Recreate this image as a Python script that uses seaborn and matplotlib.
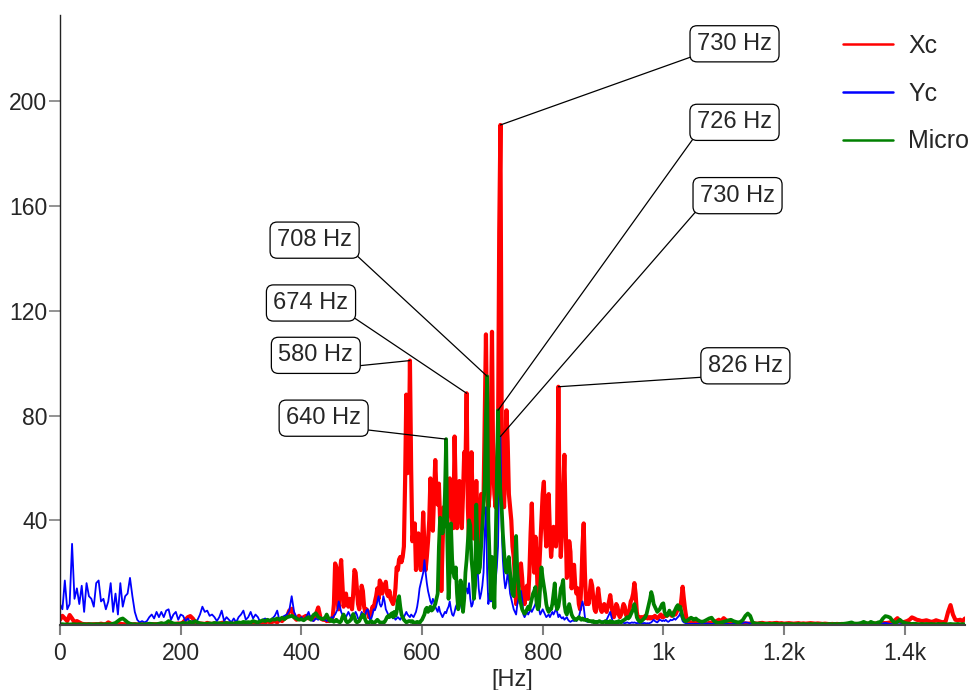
import numpy as np
import pandas as pd
import matplotlib
matplotlib.use("Agg")
import matplotlib.pyplot as plt
from matplotlib.ticker import FuncFormatter
import seaborn as sns

# frequency bins [Hz]: 4 Hz outside the resonance band, 2 Hz inside it
freq = np.concatenate([np.arange(0, 440, 4), np.arange(440, 1060, 2), np.arange(1060, 1504, 4)])

# ---- Xc -------------------------------------------------------------
xc_low = [2, 3.5, 2.5, 1.5, 3.8, 2.5, 1, 1.5, 1, 0.5,
          0.3, 0.3, 0.3, 0.2, 0.3, 0.3, 0.3, 0.5, 0.3, 0.3,
          1, 0.5, 0.3, 0.3, 0.2, 0.5, 0.3, 0.3, 0.2, 0.3,
          0.2, 0.3, 0.2, 0.3, 0.3, 0.2, 0.3, 0.2, 0.3, 0.3,
          0.3, 0.3, 0.5, 0.3, 0.4, 0.3, 0.5, 0.3, 0.4, 0.6,
          0.5, 1, 2, 3, 3.4, 2.5, 1.2, 0.5, 0.6, 0.5,
          0.4, 0.8, 0.5, 0.4, 0.6, 0.5, 0.4, 0.8, 1, 0.5,
          0.6, 0.4, 0.5, 0.8, 0.5, 0.6, 0.5, 0.7, 0.5, 0.6,
          0.8, 0.6, 0.7, 1, 0.6, 0.8, 1.5, 1, 1.2, 1.5,
          1, 2, 1.5, 2.5, 3, 5.5, 6.2, 3, 2, 3.5,
          2.5, 3, 3.5, 2.5, 3, 2, 4, 6.7, 2.5, 2]
xc_mid = [2, 1.5, 2, 1.5, 2, 2.5, 3, 8, 23.5, 22,
          10, 6, 20, 24.8, 16, 7, 9, 12, 8, 7,
          10, 9, 6, 12, 21, 20, 14, 8, 6, 10,
          15, 13, 7, 5, 6, 5, 3, 4, 5, 7,
          6, 9, 11, 14, 10, 17, 16, 12, 15, 14,
          16.5, 12, 11, 13, 10, 9, 8, 9.5, 14, 22,
          21, 25, 26, 24, 26, 30, 55, 88, 58, 62,
          101, 60, 32, 36, 38.8, 21, 27, 35, 28, 21,
          30, 43, 30, 21, 26, 32, 40, 56, 44, 36,
          50, 63, 50, 46, 54, 40, 13, 30, 45, 40,
          42, 38, 46, 56, 48, 40, 37, 72, 50, 37,
          45, 55, 45, 37, 50, 66, 60, 88.5, 45, 32,
          50, 66, 45, 33, 42, 55, 40, 28, 35, 50,
          45, 48, 80, 111, 70, 45, 50, 75, 112, 60,
          50, 45, 60, 70, 150, 191, 80, 55, 45, 60,
          82, 70, 50, 45, 40, 30, 26, 18, 8, 12,
          15, 20, 23.5, 18, 10, 8, 12, 15, 10, 20,
          35, 46.4, 30, 20, 33.7, 25, 10, 20, 30, 40,
          50, 54.7, 38, 30, 40, 50, 35, 26, 32, 37.5,
          33, 30, 38, 91, 45, 26, 35, 50, 65, 40,
          18, 20, 32, 28, 14, 20, 23, 15, 12, 14,
          8, 6, 15, 30, 38.8, 20, 8, 10, 8, 12,
          17, 15, 10, 6, 5, 10, 14, 10, 6, 5,
          7, 8, 6, 5, 7, 9, 11.4, 8, 4, 3,
          5, 8, 7, 4, 3, 4, 6, 8, 7, 4,
          3, 4, 6, 9, 10, 12, 16, 12, 5, 2.5,
          2.5, 3, 2.5, 3, 2.5, 3.5, 3, 2.5, 3, 2.5,
          3, 2.5, 3, 3.5, 3, 2.5, 3, 3.5, 4, 3,
          3, 3.5, 4, 3.5, 4, 4.5, 4, 3.5, 4, 5,
          4, 5, 6, 7, 6, 10, 14.6, 10, 6, 3,
          2, 1.2, 1, 0.8, 1, 0.7, 0.8, 1, 0.8, 0.7]
xc_high = [0.6, 0.5, 0.6, 0.5, 0.8, 1, 1.2, 1.5, 2, 1.5,
           2.6, 1.8, 1.2, 0.8, 0.6, 0.5, 0.6, 0.5, 0.7, 0.6,
           0.5, 0.6, 0.7, 0.6, 0.5, 0.7, 0.8, 0.6, 0.5, 0.7,
           0.6, 0.7, 0.8, 0.6, 0.7, 0.5, 0.6, 0.7, 0.6, 0.5,
           0.6, 0.7, 0.5, 0.6, 0.5, 0.6, 0.7, 0.6, 0.5, 0.6,
           0.5, 0.4, 0.5, 0.4, 0.3, 0.4, 0.3, 0.4, 0.3, 0.4,
           0.3, 0.4, 0.3, 0.4, 0.3, 0.4, 0.3, 0.4, 0.5, 0.4,
           0.5, 0.4, 0.5, 0.6, 0.5, 0.6, 0.8, 0.7, 0.8, 1,
           1.2, 1.8, 2.6, 1.5, 1, 1.2, 1.5, 2, 2.9, 2.5,
           2, 1.8, 1.5, 1.6, 1.8, 1.5, 1.2, 1.4, 1.8, 1.5,
           1.2, 1, 1.5, 5, 7.6, 4, 2, 1.8, 2, 1.5,
           2.5]

# ---- Yc -------------------------------------------------------------
yc_low = [8, 6, 17, 6, 8, 31, 10, 14, 8, 15,
          5, 16, 11, 10, 7, 16, 17, 9, 10, 6,
          9, 16, 5, 12, 4, 16, 7, 11, 12, 18,
          11, 5, 2, 1, 1.5, 1, 1.5, 3, 4, 2.5,
          5, 3, 5, 3, 5.5, 6, 2, 4, 5, 2,
          4, 3.5, 1.5, 2.5, 1, 1.5, 1, 2, 4, 7,
          5, 5.5, 3.5, 4, 3, 1.5, 3, 5.5, 1.5, 3,
          2, 1, 2.5, 1, 3, 4, 5.5, 2, 3, 5,
          2.5, 4, 3, 1, 2, 2.5, 2, 1.5, 2.5, 3.5,
          5.5, 1.5, 3, 3.5, 4, 5.5, 11, 5, 3, 2,
          3, 2, 3, 5, 2, 1.5, 2.5, 2, 3, 2]
yc_mid = [2, 1.5, 2, 1.5, 2, 3, 2.5, 3.5, 4, 5,
          6, 9, 7, 5, 4, 3, 3.5, 3, 4, 5,
          4, 3, 2, 3, 4, 5, 4, 2.5, 2, 3.5,
          5, 4, 3, 4, 5.5, 6, 4, 2, 2.5, 4,
          6, 5.7, 7, 9, 11, 8, 7, 8, 11, 9,
          6, 5, 4, 3.5, 3, 3.5, 2.5, 3, 2, 2.5,
          3, 2.5, 2, 3, 2.5, 3, 4, 5, 4, 3.5,
          3, 4, 3.5, 3, 4, 5, 7, 10, 14, 16,
          18, 20, 24.8, 20, 16, 13, 11, 9, 8, 10,
          9, 7, 6, 5, 7, 5, 4, 3, 4, 5,
          4.5, 6, 7, 9, 6, 4, 3.5, 5, 7, 8,
          9, 12, 8, 6, 7, 9, 13, 14, 12, 16,
          10, 7, 8, 11, 15, 20, 22, 14, 10, 12,
          15, 20, 35, 45, 20, 8, 12, 9, 10, 8,
          12, 17, 22, 30, 55, 72, 38, 25, 18, 14,
          16, 20, 17, 12, 10, 8, 6, 5, 4, 8,
          10, 12, 13, 10, 4, 3, 4, 5, 4, 5,
          6, 5, 6, 7, 8, 9, 8, 6, 4, 5,
          6, 5, 4, 3, 3.5, 4, 3, 4, 5, 4,
          5, 6, 5, 3, 4, 3, 2.5, 3, 2, 2.5,
          3, 2, 1.5, 1.2, 1.5, 1.8, 1.5, 2, 1.5, 2.5,
          3, 5, 7, 9, 7, 3, 1.5, 1.2, 1.5, 1.2,
          1.5, 1, 1.2, 1, 1.5, 1.2, 1, 1.2, 1.5, 1.2,
          1.5, 1.2, 1.5, 2, 3, 4, 5, 3, 1.5, 1,
          1, 0.8, 1, 0.8, 1, 0.8, 1, 0.8, 0.7, 0.8,
          1, 0.8, 0.7, 0.8, 1, 0.8, 1, 0.8, 0.7, 0.8,
          0.7, 0.8, 0.7, 0.6, 0.8, 0.7, 0.6, 0.7, 0.6, 0.8,
          1, 1.5, 2, 1.5, 1.2, 1, 1.5, 2, 1.8, 1.5,
          1.8, 1.5, 2, 1.5, 1.2, 1.5, 2, 1.8, 2, 2.5,
          2, 2.5, 3, 3.5, 4.5, 3, 1.5, 1, 0.8, 0.6,
          0.5, 0.4, 0.5, 0.4, 0.5, 0.4, 0.5, 0.4, 0.5, 0.4]
yc_high = [0.5, 0.4, 0.5, 0.6, 0.5, 0.4, 0.5, 0.4, 0.6, 0.5,
           0.4, 0.5, 0.4, 0.3, 0.4, 0.5, 0.6, 0.5, 0.8, 1,
           0.9, 0.6, 0.4, 0.3, 0.4, 0.3, 0.4, 0.3, 0.3, 0.4,
           0.3, 0.4, 0.3, 0.3, 0.4, 0.3, 0.3, 0.4, 0.3, 0.3,
           0.4, 0.3, 0.3, 0.4, 0.3, 0.3, 0.4, 0.3, 0.3, 0.4,
           0.3, 0.3, 0.4, 0.3, 0.3, 0.4, 0.3, 0.3, 0.4, 0.3,
           0.3, 0.4, 0.3, 0.3, 0.4, 0.3, 0.3, 0.4, 0.3, 0.3,
           0.4, 0.3, 0.3, 0.4, 0.5, 0.4, 0.6, 0.8, 0.6, 0.4,
           0.3, 0.4, 0.3, 0.3, 0.4, 0.3, 0.3, 0.4, 0.3, 0.3,
           0.3, 0.4, 0.3, 0.3, 0.4, 0.3, 0.3, 0.4, 0.3, 0.3,
           0.3, 0.4, 0.3, 0.3, 0.4, 0.3, 0.3, 0.4, 0.3, 0.3,
           0.3]

# ---- Micro ----------------------------------------------------------
micro_low = [0.3, 0.3, 0.2, 0.3, 0.2, 0.3, 0.3, 0.2, 0.3, 0.2,
             0.3, 0.2, 0.3, 0.3, 0.2, 0.3, 0.3, 0.3, 0.2, 0.3,
             0.3, 0.3, 0.5, 0.8, 1.5, 2.2, 2.5, 1.8, 1, 0.5,
             0.3, 0.3, 0.2, 0.3, 0.2, 0.3, 0.3, 0.5, 0.4, 0.3,
             0.3, 0.5, 0.7, 0.5, 0.8, 1.5, 1, 0.6, 0.5, 0.4,
             0.5, 0.8, 0.6, 0.7, 1.2, 0.8, 1.5, 1, 0.6, 0.5,
             0.4, 0.5, 0.6, 0.5, 0.8, 0.6, 0.7, 0.5, 0.6, 0.8,
             0.6, 0.7, 0.5, 0.8, 1, 0.8, 1.2, 1, 1.1, 1,
             1.5, 1.2, 1, 1.4, 1.8, 1.5, 2, 1.6, 2.2, 2,
             2.5, 2, 2.8, 2.2, 3, 3.2, 3.5, 3, 2.5, 2,
             2.2, 1.8, 2.5, 3, 2, 3.8, 4.5, 3, 2.5, 2.2]
micro_mid = [3, 4, 3, 2, 1.5, 2, 1.5, 1.2, 1.5, 2,
             1.5, 1.2, 1, 1.5, 3, 4, 3, 1.5, 1, 1.2,
             1.5, 2, 3, 4.2, 3, 1.5, 1, 1.2, 1.5, 2.5,
             3, 4, 3.5, 2, 1, 0.8, 1, 1.2, 1.5, 1,
             0.8, 1, 1.5, 2, 1.5, 1, 0.8, 1, 0.8, 1.2,
             2, 3, 3.5, 3, 4, 4.5, 3, 5, 3.5, 5,
             9.5, 11, 7, 4, 3, 2, 1.5, 1, 1.2, 1.5,
             1.5, 1.2, 1.5, 1, 0.8, 1, 1.2, 1, 0.8, 1.5,
             2, 3, 4, 6, 6.6, 5, 6, 7, 5.5, 6,
             7, 8, 10, 12, 30, 41, 38, 35, 38, 50,
             71, 32, 10, 20, 38.8, 25, 20, 18, 22, 12,
             6, 10, 17, 12, 5, 10, 20, 25, 32, 40,
             38, 25, 20, 10, 15, 46, 30, 20, 22, 30,
             38, 45, 55, 80, 95, 40, 26, 10, 26, 22,
             6.6, 30, 55, 82, 60, 50, 45, 35, 28, 22,
             20, 24, 26, 20, 15, 12, 11, 22, 34, 20,
             15, 10, 8, 6, 5, 4.3, 5, 6, 7, 6,
             8, 10, 12, 13, 14.5, 8, 6, 7, 15, 22,
             18, 15, 12, 8, 6, 5, 6, 6, 8, 12,
             15.9, 8, 6, 7, 10, 14, 15, 17.2, 8, 5,
             4, 6, 8, 6, 4, 3, 2.5, 2, 2, 2.5,
             3, 2.5, 2, 2.5, 2, 2, 1.8, 2, 1.5, 1.5,
             1.5, 1.2, 1.5, 1, 1.2, 1, 1.2, 1.5, 1.2, 1,
             1, 1.2, 1.5, 1, 1.2, 1, 1.5, 1, 1.2, 1,
             1, 1.2, 1, 1.5, 1.2, 1, 1.5, 1.8, 2, 2.5,
             3, 2.5, 3, 4, 5, 6, 8, 6, 3, 2,
             1.5, 1.2, 1.5, 2, 2.5, 3, 4, 6, 8, 10,
             12.6, 11, 8, 7, 6, 5, 5.5, 6, 7, 8,
             8.3, 5, 4, 3.5, 4, 5.5, 4.5, 4, 3.5, 5,
             6, 7, 7.6, 6, 7, 5, 3, 2, 1.5, 1.5,
             1.8, 2, 2.5, 2.8, 2.5, 2, 2.2, 2.5, 2, 1.8]
micro_high = [1.5, 1.2, 1.5, 2, 2.5, 2.8, 1.5, 1, 0.8, 1,
              1.2, 1.5, 1.8, 2, 1.5, 1.2, 1, 1.2, 2, 3.5,
              4.4, 3.5, 1, 0.6, 0.5, 0.6, 0.5, 0.4, 0.5, 0.4,
              0.4, 0.5, 0.4, 0.3, 0.4, 0.3, 0.4, 0.3, 0.4, 0.3,
              0.3, 0.4, 0.3, 0.4, 0.3, 0.3, 0.4, 0.3, 0.4, 0.3,
              0.3, 0.4, 0.3, 0.3, 0.4, 0.3, 0.4, 0.3, 0.4, 0.4,
              0.5, 0.6, 0.8, 1, 0.6, 0.5, 0.6, 0.8, 1.2, 0.8,
              0.6, 1.2, 0.8, 0.6, 1, 1.2, 2.5, 3.4, 3.2, 2.8,
              1.5, 0.8, 1.2, 2, 1.2, 0.8, 0.6, 0.5, 0.4, 0.5,
              0.4, 0.3, 0.4, 0.3, 0.4, 0.3, 0.4, 0.3, 0.3, 0.4,
              0.3, 0.4, 0.3, 0.3, 0.4, 0.3, 0.3, 0.4, 0.3, 0.3,
              0.3]

series_names = ["Xc", "Yc", "Micro"]
series_colors = ["#ff0000", "#0000ff", "#008000"]
series_widths = [3.0, 1.3, 2.7]

df = pd.DataFrame({
    "freq": freq,
    "Xc": xc_low + xc_mid + xc_high,
    "Yc": yc_low + yc_mid + yc_high,
    "Micro": micro_low + micro_mid + micro_high,
})

# peak labels: (text, series, frequency) and where the callout box sits
peak_labels = [("730 Hz", "Xc", 730), ("726 Hz", "Micro", 726), ("730 Hz", "Yc", 730),
               ("826 Hz", "Xc", 826), ("708 Hz", "Micro", 708), ("674 Hz", "Xc", 674),
               ("580 Hz", "Xc", 580), ("640 Hz", "Micro", 640)]
label_pos = [(1118, 222), (1118, 192), (1123, 164), (1136, 99),
             (422, 147), (416, 123), (424, 103), (437, 79)]

sns.set_style("white")
plt.rcParams["font.family"] = ["Liberation Sans", "DejaVu Sans"]

fig = plt.figure(figsize=(9.77, 6.9), dpi=100)
ax = fig.add_axes([60 / 977, 1 - 625 / 690, 905 / 977, 610 / 690])

for name, col, lw in zip(series_names, series_colors, series_widths):
    sns.lineplot(data=df, x="freq", y=name, ax=ax, color=col, linewidth=lw, label=name)

ax.set_xlim(0, 1500)
ax.set_ylim(0, 233)
ax.set_yticks([40, 80, 120, 160, 200])
ax.set_xticks([0, 200, 400, 600, 800, 1000, 1200, 1400])
ax.xaxis.set_major_formatter(FuncFormatter(lambda v, p: f"{v/1000:g}k" if v >= 1000 else f"{v:g}"))
ax.tick_params(axis="x", direction="out", length=7, width=1.5, color="#808080",
               labelsize=16.5, pad=5, bottom=True)
ax.tick_params(axis="y", direction="out", length=8, width=1.2, color="#808080",
               labelsize=16.5, pad=1, left=True)
ax.set_xlabel("[Hz]", fontsize=17, labelpad=3)
ax.set_ylabel("")

for side in ["top", "right"]:
    ax.spines[side].set_visible(False)
ax.spines["left"].set_color("#222222")
ax.spines["left"].set_linewidth(1)
ax.spines["bottom"].set_color("#444444")
ax.spines["bottom"].set_linewidth(1.5)

for (txt, name, f), (tx, ty) in zip(peak_labels, label_pos):
    val = df.loc[df["freq"] == f, name].iloc[0]
    rel = (0, 0) if tx > f else (1, 0)
    ax.annotate(txt, xy=(f, val), xytext=(tx, ty), textcoords="data",
                ha="center", va="center", fontsize=17, zorder=5,
                bbox=dict(boxstyle="round,pad=0.3", fc="white", ec="black", lw=0.9),
                arrowprops=dict(arrowstyle="-", color="black", lw=0.9,
                                shrinkA=0, shrinkB=0, relpos=rel))

leg = ax.legend(loc="upper left", bbox_to_anchor=(843 / 977, 1 - 34 / 690),
                bbox_transform=fig.transFigure, frameon=False, fontsize=18,
                handlelength=2.0, handletextpad=0.6, labelspacing=0.95,
                borderpad=0, borderaxespad=0)
for line in leg.get_lines():
    line.set_linewidth(1.8)

fig.savefig("out.png", dpi=100)
